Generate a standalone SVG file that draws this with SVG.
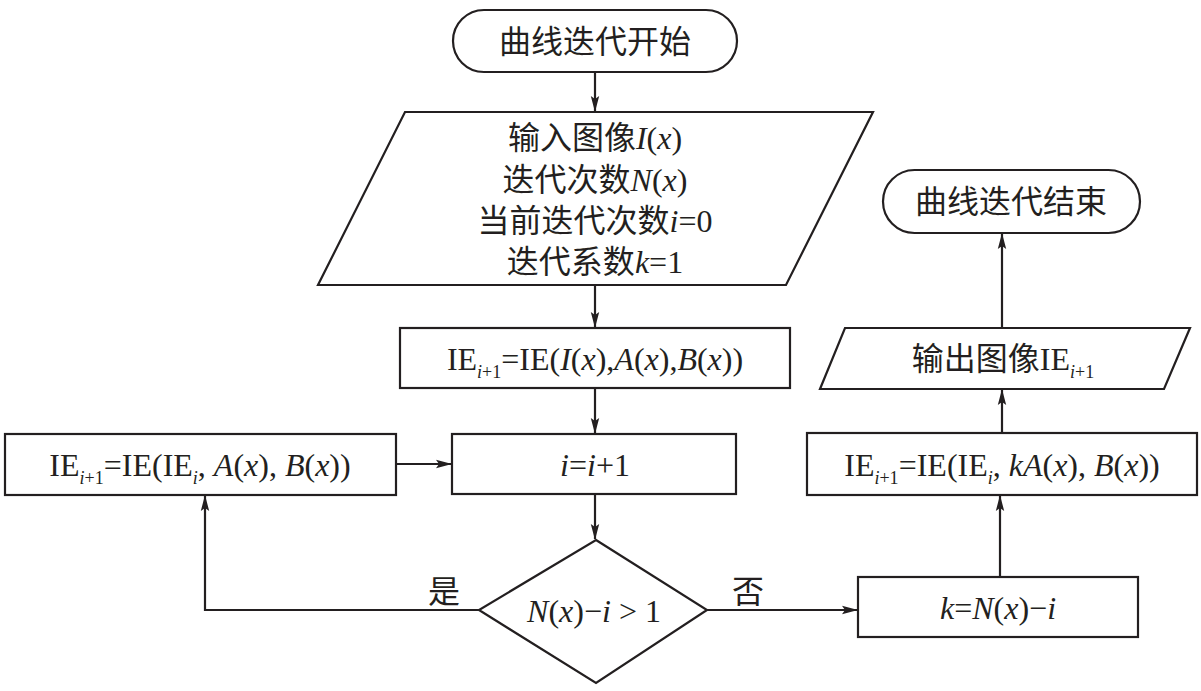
<svg xmlns="http://www.w3.org/2000/svg" width="1201" height="691" viewBox="0 0 1201 691">
<defs>
<marker id="ah" markerWidth="16" markerHeight="10" refX="15" refY="5" orient="auto" markerUnits="userSpaceOnUse">
<path d="M0,0.8 L16,5 L0,9.2 L3,5 Z" fill="#231f20"/>
</marker>
<style>
.s{fill:#fff;stroke:#231f20;stroke-width:2.2}
.c{fill:none;stroke:#231f20;stroke-width:2.2}
text{font-family:"Liberation Serif","Noto Sans CJK SC",serif;font-size:32px;fill:#231f20;text-anchor:middle}
.i{font-style:italic}
.sub{font-size:18px;font-style:italic}
.sb{font-size:18px}
</style>
</defs>
<rect width="1201" height="691" fill="#fff"/>
<g id="start">
<rect class="s" x="453" y="10" width="284" height="62" rx="31"/>
<text x="595" y="53">曲线迭代开始</text>
</g>
<g id="input">
<polygon class="s" points="405,112 873,112 786,285 318,285"/>
<text x="595" y="149">输入图像<tspan class="i">I</tspan>(<tspan class="i">x</tspan>)</text>
<text x="595" y="191">迭代次数<tspan class="i">N</tspan>(<tspan class="i">x</tspan>)</text>
<text x="595" y="232">当前迭代次数<tspan class="i">i</tspan>=0</text>
<text x="595" y="273">迭代系数<tspan class="i">k</tspan>=1</text>
</g>
<g id="init">
<rect class="s" x="400" y="328" width="390" height="60"/>
<text x="595" y="370">IE<tspan class="sub" dy="8">i</tspan><tspan class="sb">+1</tspan><tspan dy="-8">=IE(</tspan><tspan class="i">I</tspan>(<tspan class="i">x</tspan>),<tspan class="i">A</tspan>(<tspan class="i">x</tspan>),<tspan class="i">B</tspan>(<tspan class="i">x</tspan>))</text>
</g>
<g id="inc">
<rect class="s" x="452" y="434" width="284" height="60"/>
<text x="595" y="476"><tspan class="i">i</tspan>=<tspan class="i">i</tspan>+1</text>
</g>
<g id="update">
<rect class="s" x="5" y="434" width="391" height="61"/>
<text x="200" y="476">IE<tspan class="sub" dy="8">i</tspan><tspan class="sb">+1</tspan><tspan dy="-8">=IE(IE</tspan><tspan class="sub" dy="8">i</tspan><tspan dy="-8">, </tspan><tspan class="i">A</tspan>(<tspan class="i">x</tspan>), <tspan class="i">B</tspan>(<tspan class="i">x</tspan>))</text>
</g>
<g id="decision">
<polygon class="s" points="596,540 707,610 596,683 479,610"/>
<text x="594" y="622"><tspan class="i">N</tspan>(<tspan class="i">x</tspan>)−<tspan class="i">i</tspan> &gt; 1</text>
</g>
<g id="kset">
<rect class="s" x="858" y="577" width="280" height="60"/>
<text x="998" y="619"><tspan class="i">k</tspan>=<tspan class="i">N</tspan>(<tspan class="i">x</tspan>)−<tspan class="i">i</tspan></text>
</g>
<g id="update2">
<rect class="s" x="807" y="433" width="390" height="62"/>
<text x="1002" y="476">IE<tspan class="sub" dy="8">i</tspan><tspan class="sb">+1</tspan><tspan dy="-8">=IE(IE</tspan><tspan class="sub" dy="8">i</tspan><tspan dy="-8">, </tspan><tspan class="i">kA</tspan>(<tspan class="i">x</tspan>), <tspan class="i">B</tspan>(<tspan class="i">x</tspan>))</text>
</g>
<g id="output">
<polygon class="s" points="845,328 1190,328 1164,389 820,389"/>
<text x="1003" y="370">输出图像IE<tspan class="sub" dy="8">i</tspan><tspan class="sb">+1</tspan></text>
</g>
<g id="end">
<rect class="s" x="883" y="170" width="257" height="63" rx="31.5"/>
<text x="1011" y="213">曲线迭代结束</text>
</g>
<g id="connectors">
<line class="c" x1="595" y1="72" x2="595" y2="111" marker-end="url(#ah)"/>
<line class="c" x1="595" y1="285" x2="595" y2="327" marker-end="url(#ah)"/>
<line class="c" x1="595" y1="388" x2="595" y2="433" marker-end="url(#ah)"/>
<line class="c" x1="396" y1="464" x2="451" y2="464" marker-end="url(#ah)"/>
<line class="c" x1="595" y1="494" x2="595" y2="539" marker-end="url(#ah)"/>
<polyline class="c" points="479,610 205,610 205,496" marker-end="url(#ah)"/>
<line class="c" x1="707" y1="610" x2="857" y2="610" marker-end="url(#ah)"/>
<line class="c" x1="1000" y1="577" x2="1000" y2="496" marker-end="url(#ah)"/>
<line class="c" x1="1002" y1="433" x2="1002" y2="390" marker-end="url(#ah)"/>
<line class="c" x1="1002" y1="328" x2="1002" y2="234" marker-end="url(#ah)"/>
<text x="444" y="603">是</text>
<text x="748" y="603">否</text>
</g>
</svg>
